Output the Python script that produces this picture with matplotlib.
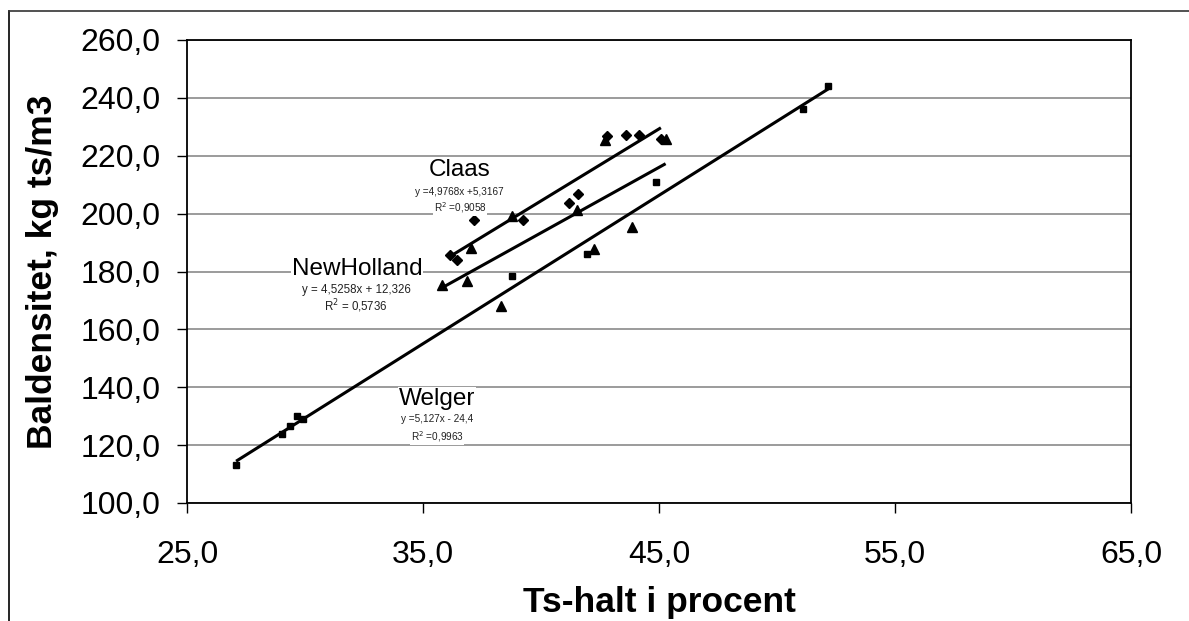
import matplotlib
matplotlib.use("Agg")
import matplotlib.pyplot as plt
from matplotlib.lines import Line2D
import numpy as np

plt.rcParams['font.family'] = ['Liberation Sans', 'DejaVu Sans']

# ---- data ----
welger_x = [27.08, 29.04, 29.35, 29.66, 29.90, 38.76, 41.96, 44.87, 51.11, 52.17]
welger_y = [113.1, 124.0, 126.5, 130.1, 129.1, 178.6, 185.9, 211.0, 236.2, 244.1]

newholland_x = [35.82, 36.85, 37.03, 38.29, 38.78, 41.51, 42.25, 42.71, 43.86, 45.28]
newholland_y = [175.3, 176.7, 188.2, 168.2, 199.2, 201.3, 187.8, 225.4, 195.3, 225.9]

claas_x = [36.14, 36.45, 37.16, 39.22, 41.20, 41.58, 42.78, 43.60, 44.15, 45.08]
claas_y = [185.7, 184.0, 197.8, 197.8, 203.6, 206.7, 226.8, 227.2, 227.2, 225.7]

# trend line coefficients (from the chart labels)
welger_fit = [5.127, -24.4]
newholland_fit = [4.5258, 12.326]
claas_fit = [4.9768, 5.3167]

x_ticks = [25, 35, 45, 55, 65]
x_tick_labels = ["25,0", "35,0", "45,0", "55,0", "65,0"]
y_ticks = [100, 120, 140, 160, 180, 200, 220, 240, 260]
y_tick_labels = ["100,0", "120,0", "140,0", "160,0", "180,0", "200,0", "220,0", "240,0", "260,0"]

W, H = 1189, 621
fig = plt.figure(figsize=(W / 100, H / 100), dpi=100)
fig.patch.set_facecolor('white')

ax = fig.add_axes([187 / W, 1 - 503 / H, (1131 - 187) / W, (503 - 40) / H])
ax.set_xlim(25, 65)
ax.set_ylim(100, 260)

ax.set_yticks(y_ticks)
ax.set_yticklabels(y_tick_labels)
ax.set_xticks(x_ticks)
ax.set_xticklabels(x_tick_labels)
ax.tick_params(axis='both', labelsize=23, colors='black', length=7, width=1, direction='out')
ax.tick_params(axis='y', pad=12)
ax.tick_params(axis='x', pad=19.5)

ax.grid(axis='y', color='#808080', linewidth=1.1, zorder=0)
ax.set_axisbelow(True)
for s in ax.spines.values():
    s.set_color('black')
    s.set_linewidth(1.3)

# series
ax.plot(welger_x, welger_y, linestyle='none', marker='s', markersize=4.3, color='black', zorder=4)
ax.plot(newholland_x, newholland_y, linestyle='none', marker='^', markersize=7.5, color='black', zorder=4)
ax.plot(claas_x, claas_y, linestyle='none', marker='D', markersize=5, color='black', zorder=4)

# trend lines
for xs, fit in [(welger_x, welger_fit), (newholland_x, newholland_fit), (claas_x, claas_fit)]:
    xx = np.array([min(xs), max(xs)])
    ax.plot(xx, fit[0] * xx + fit[1], color='black', linewidth=2.2, zorder=3, solid_capstyle='butt')


def ptext(px, py, s, size, color='black'):
    fig.text(px / W, 1 - py / H, s, fontsize=size, ha='center', va='baseline',
             color=color, zorder=5,
             bbox=dict(facecolor='white', edgecolor='none', pad=0.5))


# trend line labels
ptext(460, 176.5, "Claas", 17.5)
ptext(459, 194.5, "y =4,9768x +5,3167", 7.2, '#222222')
ptext(460, 211.5, "R$^2$ =0,9058", 7.2, '#222222')

ptext(357, 275, "NewHolland", 17.5)
ptext(356, 292.5, "y = 4,5258x + 12,326", 8.3, '#222222')
ptext(356, 310.5, "R$^2$ = 0,5736", 8.3, '#222222')

ptext(437, 405, "Welger", 17.5)
ptext(437, 422.5, "y =5,127x - 24,4", 7.2, '#222222')
ptext(437, 441, "R$^2$ =0,9963", 7.2, '#222222')

# axis titles
fig.text(659 / W, 1 - 612 / H, "Ts-halt i procent", fontsize=25.5, fontweight='bold',
         ha='center', va='baseline', color='black')
fig.text(52 / W, 1 - 272 / H, "Baldensitet, kg ts/m3", fontsize=25.5, fontweight='bold',
         ha='center', va='baseline', rotation=90, rotation_mode='anchor', color='black')

# outer chart border (left and top edges visible)
fig.add_artist(Line2D([9 / W, 9 / W], [0, 1 - 11 / H], transform=fig.transFigure, color='black', linewidth=1.2))
fig.add_artist(Line2D([9 / W, 1], [1 - 11 / H, 1 - 11 / H], transform=fig.transFigure, color='#333333', linewidth=1.2))

fig.savefig("out.png", dpi=100, facecolor='white')
